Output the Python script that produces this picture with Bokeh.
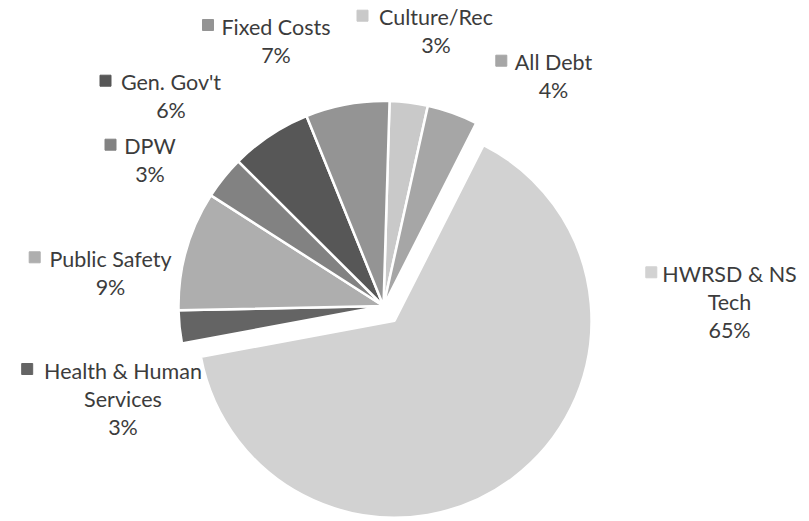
import math
from bokeh.plotting import figure
from bokeh.models import Range1d, ColumnDataSource
from bokeh.core.properties import value
from bokeh.embed import file_html
from bokeh.resources import INLINE

# ---------------- data (clockwise from 12 o'clock) ----------------
categories = ["Culture/Rec", "All Debt", "HWRSD & NS\nTech", "Health & Human\nServices",
              "Public Safety", "DPW", "Gen. Gov't", "Fixed Costs"]
shares = [3.0, 4.0, 64.6, 2.6, 9.4, 3.4, 6.4, 6.6]
colors = ["#c9c9c9", "#a6a6a6", "#d2d2d2", "#646464", "#aeaeae", "#828282", "#575757", "#949494"]
exploded = [0, 0, 1, 0, 0, 0, 0, 0]

# ---------------- layout (reference pixel space) ----------------
W, H = 809, 521
CX, CY = 383.0, 305.5       # pie centre
R = 205.0                   # pie radius
R_EXPLODED = 197.0          # radius of the pulled-out slice
EXPLODE = 18.4              # explode distance
START = 1.7                 # first slice angle, degrees clockwise from top
label_cx = [435.5, 553.0, 729.0, 122.5, 110.0, 149.5, 170.5, 275.5]
label_y1 = [16.7, 61.7, 273.3, 370.0, 258.3, 145.7, 81.7, 26.0]
key_x = [362.0, 500.8, 650.8, 26.7, 34.2, 110.0, 105.0, 207.5]
LINE_STEP = 28.0
TEXT_COLOR = "#3c3c3c"
FONT = "Lato"


def Y(ry):
    return 521.0 - ry


total = float(sum(shares))
wx, wy, a0, a1, rr = [], [], [], [], []
cum = 0.0
for s, e in zip(shares, exploded):
    t1 = START + 360.0 * cum / total
    cum += s
    t2 = START + 360.0 * cum / total
    mid = math.radians((t1 + t2) / 2.0)
    off = EXPLODE * e
    wx.append(CX + off * math.sin(mid))
    wy.append(Y(CY - off * math.cos(mid)))
    a0.append(math.radians(90.0 - t2))
    a1.append(math.radians(90.0 - t1))
    rr.append(R_EXPLODED if e else R)

wsrc = ColumnDataSource(dict(x=wx, y=wy, r=rr, start=a0, end=a1, color=colors))

p = figure(width=W, height=H, x_range=Range1d(0, W), y_range=Range1d(Y(H), Y(0)),
           output_backend="svg", toolbar_location=None, min_border=0,
           x_axis_type=None, y_axis_type=None)
p.grid.visible = False
p.outline_line_color = None
p.background_fill_color = "white"
p.border_fill_color = "white"

p.wedge(x="x", y="y", radius="r", start_angle="start", end_angle="end",
        direction="anticlock", fill_color="color", line_color="white",
        line_width=2.5, source=wsrc)

# labels
tx, ty, tt = [], [], []
for cat, s, cx, y1 in zip(categories, shares, label_cx, label_y1):
    lines = cat.split("\n") + [f"{round(s):.0f}%"]
    for i, ln in enumerate(lines):
        tx.append(cx)
        ty.append(Y(y1 + i * LINE_STEP))
        tt.append(ln)
p.text(x=tx, y=ty, text=tt, text_font=value(FONT), text_font_size="21.5px",
       text_color=TEXT_COLOR, text_align="center", text_baseline="middle")

ksrc = ColumnDataSource(dict(x=key_x, y=[Y(v - 1.5) for v in label_y1], color=colors))
p.scatter(x="x", y="y", marker="square", size=11, fill_color="color",
          line_color="color", source=ksrc)

open("out.html", "w").write(file_html(p, INLINE))
